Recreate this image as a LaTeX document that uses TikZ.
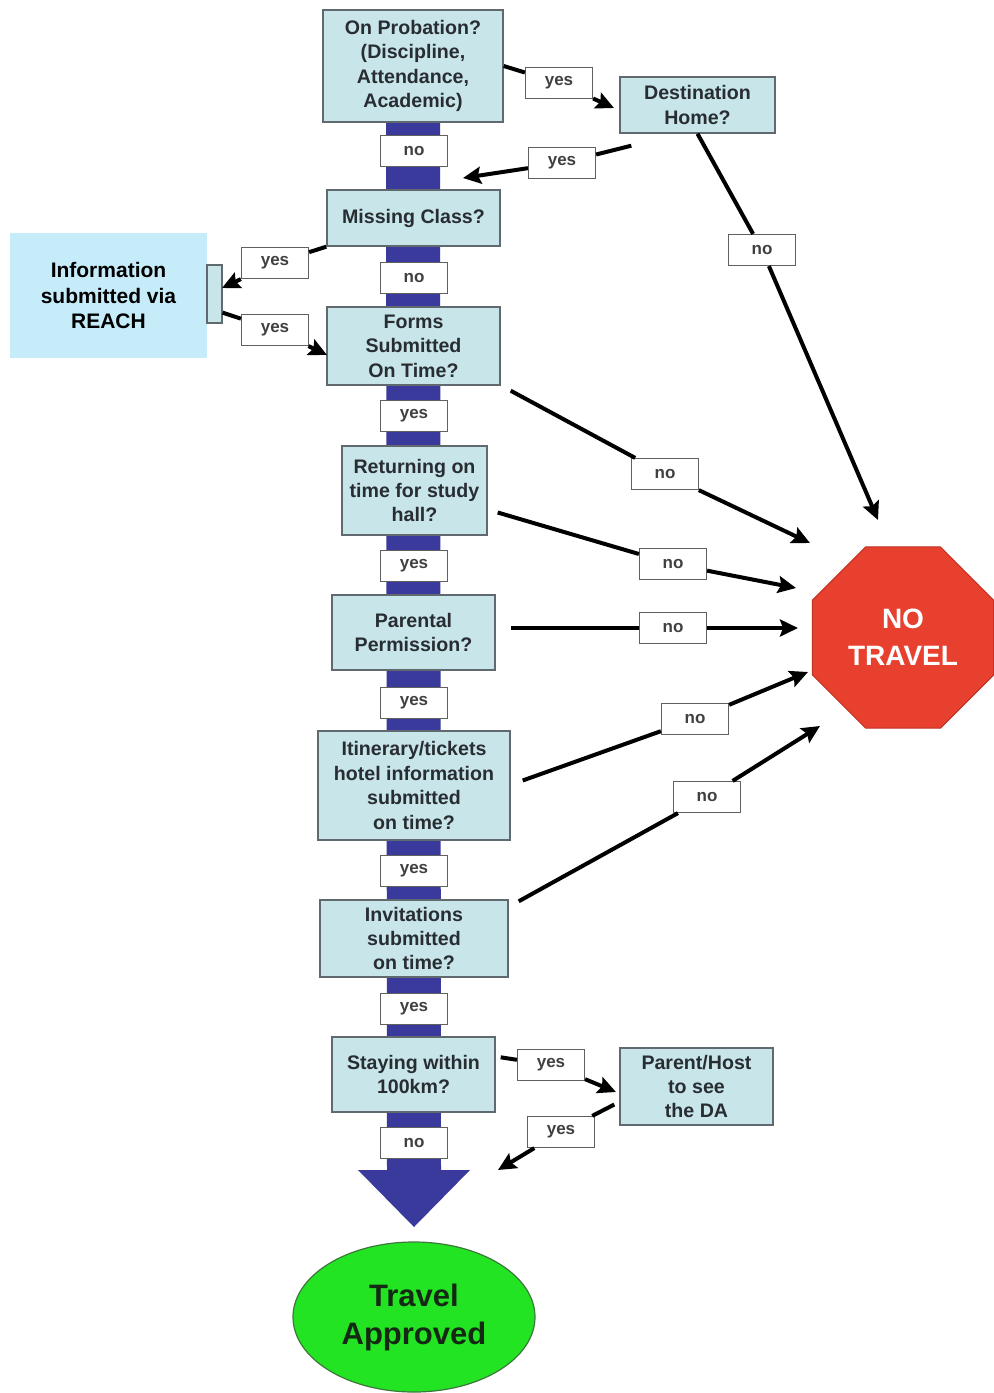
\documentclass[tikz,border=0pt]{standalone}
\usepackage{fontspec}
\setmainfont{Liberation Sans}
\usetikzlibrary{arrows.meta,calc,shapes.geometric}
\pgfdeclarelayer{background}
\pgfsetlayers{background,main}
\definecolor{boxfill}{RGB}{200,229,233}
\definecolor{boxline}{RGB}{95,105,110}
\definecolor{boxtext}{RGB}{40,45,50}
\definecolor{spinecol}{RGB}{58,58,156}
\definecolor{reachfill}{RGB}{198,236,250}
\definecolor{stopred}{RGB}{232,64,46}
\definecolor{stopline}{RGB}{190,50,35}
\definecolor{gogreen}{RGB}{34,228,34}
\definecolor{goline}{RGB}{60,120,60}
\definecolor{gotext}{RGB}{20,40,20}
\begin{document}
\begin{tikzpicture}[x=0.5pt,y=-0.5pt,
  box/.style={draw=boxline, line width=0.7pt, fill=boxfill, align=center, text=boxtext,
    font=\bfseries\fontsize{9.8}{12.2}\selectfont, inner sep=1pt},
  lbl/.style={draw=gray!75!black, line width=0.6pt, fill=white, minimum width=33.5pt,
    minimum height=15.5pt, inner sep=0pt, text=black!75, font=\bfseries\fontsize{8.5}{10}\selectfont},
  ln/.style={line width=2pt, black},
  arr/.style={ln, -{Stealth[length=9pt,width=8.5pt,inset=1.5pt]}}]
\useasboundingbox (0,0) rectangle (994,1393);

% decision boxes
\node[box, minimum width=90pt, minimum height=56pt] (probation) at (413,66) {On Probation?\\(Discipline,\\Attendance,\\Academic)};
\node[box, minimum width=77.5pt, minimum height=28pt] (dest) at (697.5,105) {Destination\\Home?};
\node[box, minimum width=86.5pt, minimum height=28pt] (missing) at (413.5,218) {Missing Class?};
\node[box, minimum width=86.5pt, minimum height=39pt] (forms) at (413.5,346) {Forms\\Submitted\\On Time?};
\node[box, minimum width=72.5pt, minimum height=44.5pt] (ret) at (414.5,490.5) {Returning on\\time for study\\hall?};
\node[box, minimum width=81.5pt, minimum height=37.5pt] (par) at (413.5,632.5) {Parental\\Permission?};
\node[box, minimum width=96pt, minimum height=54.5pt] (itin) at (414,785.5) {Itinerary/tickets\\hotel information\\submitted\\on time?};
\node[box, minimum width=94pt, minimum height=38.5pt] (inv) at (414,938.5) {Invitations\\submitted\\on time?};
\node[box, minimum width=81.5pt, minimum height=37.5pt] (stay) at (413.5,1074.5) {Staying within\\100km?};
\node[box, minimum width=76.5pt, minimum height=38.5pt] (ph) at (696.5,1086.5) {Parent/Host\\to see\\the DA};

% REACH
\node[fill=reachfill, minimum width=98.5pt, minimum height=62.5pt, align=center, text=black,
  font=\bfseries\fontsize{10.5}{12.75}\selectfont] (reach) at (108.5,295.5) {Information\\submitted via\\REACH};
\node[draw=boxline, line width=0.6pt, fill=boxfill, minimum width=7.5pt, minimum height=29pt, inner sep=0pt] (tab) at (214.5,294) {};

% outcomes
\node[regular polygon, regular polygon sides=8, minimum size=98pt, fill=stopred, draw=stopline,
  line width=0.5pt, align=center, text=white, inner sep=0pt,
  font=\bfseries\fontsize{14}{18.5}\selectfont] (notravel) at (903,637.5) {NO\\TRAVEL};
\node[ellipse, minimum width=121pt, minimum height=75pt, fill=gogreen, draw=goline, line width=0.6pt,
  align=center, text=gotext, inner sep=0pt, font=\bfseries\fontsize{15.5}{19}\selectfont] (approved) at (414,1317) {Travel\\Approved};

% spine
\coordinate (abase) at (414,1170);
\begin{pgfonlayer}{background}
\draw[spinecol, line width=27pt] (probation.center) -- (abase);
\fill[spinecol] ($(abase)+(-56,0)$) -- ($(abase)+(56,0)$) -- ($(abase)+(0,57)$) -- cycle;
\end{pgfonlayer}

% labels on spine
\node[lbl] (n1) at (414,151) {no};
\node[lbl] (n2) at (414,278) {no};
\node[lbl] (y3) at (414,416) {yes};
\node[lbl] (y4) at (414,566) {yes};
\node[lbl] (y5) at (414,703) {yes};
\node[lbl] (y6) at (414,871) {yes};
\node[lbl] (y7) at (414,1009) {yes};
\node[lbl] (n8) at (414,1143) {no};

% side labels
\node[lbl] (ya) at (559,83) {yes};
\node[lbl] (yb) at (562,163) {yes};
\node[lbl] (nc) at (762,250) {no};
\node[lbl] (yd) at (275,263) {yes};
\node[lbl] (ye) at (275,330) {yes};
\node[lbl] (nf) at (665,474) {no};
\node[lbl] (ng) at (673,564) {no};
\node[lbl] (nh) at (673,628) {no};
\node[lbl] (ni) at (695,719) {no};
\node[lbl] (nj) at (707,797) {no};
\node[lbl] (yk) at (551,1065) {yes};
\node[lbl] (yl) at (561,1132) {yes};

% arrow tips
\coordinate (t1) at (614,108);
\coordinate (t2) at (463,178);
\coordinate (t3) at (878,520);
\coordinate (t4) at (222,288);
\coordinate (t5) at (327,355);
\coordinate (t6) at (810,543);
\coordinate (t7) at (796,588);
\coordinate (t8) at (798,628);
\coordinate (t9) at (808,672);
\coordinate (t10) at (820,726);
\coordinate (t11) at (616,1092);
\coordinate (t12) at (498,1170);

% connectors
\draw[ln] (probation.east) -- (ya);
\draw[arr] (ya) -- (t1);
\draw[ln] ($(dest.south west)+(12,12)$) -- (yb);
\draw[arr] (yb) -- (t2);
\draw[ln] (dest.south) -- (nc);
\draw[arr] (nc) -- (t3);
\draw[ln] (missing.south west) -- (yd);
\draw[arr] (yd) -- (t4);
\draw[ln] ($(tab.south east)+(0,-11)$) -- (ye);
\draw[arr] (ye) -- (t5);
\draw[ln] ($(forms.south east)+(10,5)$) -- (nf);
\draw[arr] (nf) -- (t6);
\draw[ln] ($(ret.east)+(10,22)$) -- (ng);
\draw[arr] (ng) -- (t7);
\draw[ln] ($(par.east)+(15,-4.5)$) -- (nh);
\draw[arr] (nh) -- (t8);
\draw[ln] ($(itin.east)+(12,-5)$) -- (ni);
\draw[arr] (ni) -- (t9);
\draw[ln] ($(inv.north east)+(10,2)$) -- (nj);
\draw[arr] (nj) -- (t10);
\draw[ln] ($(stay.north east)+(5,21)$) -- (yk);
\draw[arr] (yk) -- (t11);
\draw[ln] ($(ph.west)+(-5,18)$) -- (yl);
\draw[arr] (yl) -- (t12);
\end{tikzpicture}
\end{document}
